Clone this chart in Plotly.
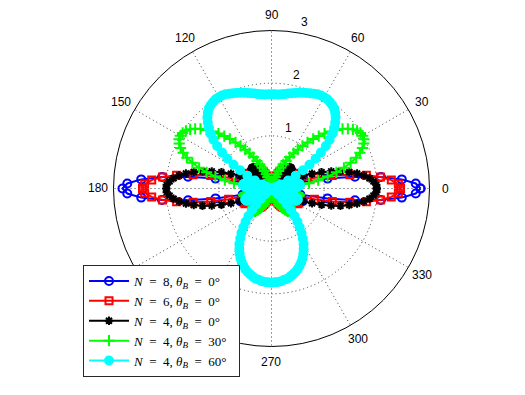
import math
import plotly.graph_objects as go

# sampling angles (degrees)
theta = list(range(0, 361, 2))

# radial values, theta = 0,2,...,360
r_n8_b0 = [
    2.83,2.74,2.48,2.09,1.60,1.08,0.56,0.10,0.27,0.51,0.63,0.64,0.55,0.39,0.20,0.00,0.18,0.31,0.40,0.43,0.41,0.35,0.26,0.15,0.03,0.08,0.17,0.25,0.31,0.34,0.36,0.36,0.34,0.32,0.28,0.24,0.21,0.17,0.13,0.10,0.07,0.04,0.02,0.01,0.00,0.00,
    0.00,0.01,0.02,0.04,0.07,0.10,0.13,0.17,0.21,0.24,0.28,0.32,0.34,0.36,0.36,0.34,0.31,0.25,0.17,0.08,0.03,0.15,0.26,0.35,0.41,0.43,0.40,0.31,0.18,0.00,0.20,0.39,0.55,0.64,0.63,0.51,0.27,0.10,0.56,1.08,1.60,2.09,2.48,2.74,2.83,
    2.74,2.48,2.09,1.60,1.08,0.56,0.10,0.27,0.51,0.63,0.64,0.55,0.39,0.20,0.00,0.18,0.31,0.40,0.43,0.41,0.35,0.26,0.15,0.03,0.08,0.17,0.25,0.31,0.34,0.36,0.36,0.34,0.32,0.28,0.24,0.21,0.17,0.13,0.10,0.07,0.04,0.02,0.01,0.00,0.00,
    0.00,0.01,0.02,0.04,0.07,0.10,0.13,0.17,0.21,0.24,0.28,0.32,0.34,0.36,0.36,0.34,0.31,0.25,0.17,0.08,0.03,0.15,0.26,0.35,0.41,0.43,0.40,0.31,0.18,0.00,0.20,0.39,0.55,0.64,0.63,0.51,0.27,0.10,0.56,1.08,1.60,2.09,2.48,2.74,2.83,
]
r_n6_b0 = [
    2.45,2.41,2.28,2.08,1.82,1.51,1.18,0.84,0.50,0.20,0.07,0.28,0.44,0.54,0.58,0.58,0.53,0.45,0.35,0.23,0.11,0.01,0.12,0.22,0.29,0.35,0.39,0.42,0.42,0.42,0.40,0.37,0.34,0.30,0.26,0.22,0.18,0.15,0.11,0.08,0.06,0.04,0.02,0.01,0.00,0.00,
    0.00,0.01,0.02,0.04,0.06,0.08,0.11,0.15,0.18,0.22,0.26,0.30,0.34,0.37,0.40,0.42,0.42,0.42,0.39,0.35,0.29,0.22,0.12,0.01,0.11,0.23,0.35,0.45,0.53,0.58,0.58,0.54,0.44,0.28,0.07,0.20,0.50,0.84,1.18,1.51,1.82,2.08,2.28,2.41,2.45,
    2.41,2.28,2.08,1.82,1.51,1.18,0.84,0.50,0.20,0.07,0.28,0.44,0.54,0.58,0.58,0.53,0.45,0.35,0.23,0.11,0.01,0.12,0.22,0.29,0.35,0.39,0.42,0.42,0.42,0.40,0.37,0.34,0.30,0.26,0.22,0.18,0.15,0.11,0.08,0.06,0.04,0.02,0.01,0.00,0.00,
    0.00,0.01,0.02,0.04,0.06,0.08,0.11,0.15,0.18,0.22,0.26,0.30,0.34,0.37,0.40,0.42,0.42,0.42,0.39,0.35,0.29,0.22,0.12,0.01,0.11,0.23,0.35,0.45,0.53,0.58,0.58,0.54,0.44,0.28,0.07,0.20,0.50,0.84,1.18,1.51,1.82,2.08,2.28,2.41,2.45,
]
r_n4_b0 = [
    2.00,1.99,1.94,1.87,1.77,1.65,1.51,1.35,1.18,1.00,0.82,0.64,0.46,0.30,0.14,0.00,0.13,0.24,0.33,0.40,0.46,0.50,0.53,0.54,0.54,0.53,0.51,0.49,0.46,0.42,0.38,0.34,0.30,0.26,0.22,0.19,0.15,0.12,0.09,0.07,0.05,0.03,0.02,0.01,0.00,0.00,
    0.00,0.01,0.02,0.03,0.05,0.07,0.09,0.12,0.15,0.19,0.22,0.26,0.30,0.34,0.38,0.42,0.46,0.49,0.51,0.53,0.54,0.54,0.53,0.50,0.46,0.40,0.33,0.24,0.13,0.00,0.14,0.30,0.46,0.64,0.82,1.00,1.18,1.35,1.51,1.65,1.77,1.87,1.94,1.99,2.00,
    1.99,1.94,1.87,1.77,1.65,1.51,1.35,1.18,1.00,0.82,0.64,0.46,0.30,0.14,0.00,0.13,0.24,0.33,0.40,0.46,0.50,0.53,0.54,0.54,0.53,0.51,0.49,0.46,0.42,0.38,0.34,0.30,0.26,0.22,0.19,0.15,0.12,0.09,0.07,0.05,0.03,0.02,0.01,0.00,0.00,
    0.00,0.01,0.02,0.03,0.05,0.07,0.09,0.12,0.15,0.19,0.22,0.26,0.30,0.34,0.38,0.42,0.46,0.49,0.51,0.53,0.54,0.54,0.53,0.50,0.46,0.40,0.33,0.24,0.13,0.00,0.14,0.30,0.46,0.64,0.82,1.00,1.18,1.35,1.51,1.65,1.77,1.87,1.94,1.99,2.00,
]
r_n4_b30 = [
    0.00,0.16,0.34,0.53,0.72,0.90,1.09,1.27,1.43,1.58,1.71,1.81,1.89,1.95,1.99,2.00,1.99,1.96,1.91,1.84,1.76,1.66,1.56,1.45,1.34,1.23,1.11,1.00,0.89,0.79,0.69,0.59,0.51,0.43,0.36,0.29,0.23,0.18,0.14,0.10,0.07,0.04,0.02,0.01,0.00,0.00,
    0.00,0.01,0.02,0.04,0.07,0.10,0.14,0.18,0.23,0.29,0.36,0.43,0.51,0.59,0.69,0.79,0.89,1.00,1.11,1.23,1.34,1.45,1.56,1.66,1.76,1.84,1.91,1.96,1.99,2.00,1.99,1.95,1.89,1.81,1.71,1.58,1.43,1.27,1.09,0.90,0.72,0.53,0.34,0.16,0.00,
    0.15,0.27,0.38,0.45,0.51,0.54,0.54,0.53,0.49,0.43,0.36,0.28,0.19,0.10,0.00,0.09,0.18,0.26,0.34,0.40,0.45,0.49,0.52,0.54,0.54,0.54,0.53,0.51,0.48,0.44,0.41,0.37,0.33,0.28,0.24,0.20,0.16,0.13,0.09,0.07,0.04,0.02,0.01,0.00,0.00,
    0.00,0.01,0.02,0.04,0.07,0.09,0.13,0.16,0.20,0.24,0.28,0.33,0.37,0.41,0.44,0.48,0.51,0.53,0.54,0.54,0.54,0.52,0.49,0.45,0.40,0.34,0.26,0.18,0.09,0.00,0.10,0.19,0.28,0.36,0.43,0.49,0.53,0.54,0.54,0.51,0.45,0.38,0.27,0.15,0.00,
]
r_n4_b60 = [
    0.38,0.45,0.50,0.54,0.54,0.53,0.49,0.42,0.34,0.23,0.10,0.04,0.19,0.35,0.52,0.69,0.85,1.01,1.16,1.31,1.44,1.55,1.66,1.74,1.82,1.88,1.93,1.96,1.98,2.00,2.00,2.00,1.99,1.97,1.95,1.93,1.91,1.89,1.87,1.85,1.83,1.81,1.80,1.79,1.79,1.79,
    1.79,1.79,1.80,1.81,1.83,1.85,1.87,1.89,1.91,1.93,1.95,1.97,1.99,2.00,2.00,2.00,1.98,1.96,1.93,1.88,1.82,1.74,1.66,1.55,1.44,1.31,1.16,1.01,0.85,0.69,0.52,0.35,0.19,0.04,0.10,0.23,0.34,0.42,0.49,0.53,0.54,0.54,0.50,0.45,0.38,
    0.30,0.20,0.09,0.02,0.12,0.23,0.32,0.40,0.46,0.51,0.54,0.54,0.53,0.50,0.44,0.37,0.29,0.19,0.08,0.04,0.16,0.29,0.42,0.55,0.68,0.80,0.91,1.02,1.12,1.22,1.30,1.38,1.45,1.51,1.56,1.61,1.65,1.68,1.71,1.74,1.75,1.77,1.78,1.78,1.79,
    1.78,1.78,1.77,1.75,1.74,1.71,1.68,1.65,1.61,1.56,1.51,1.45,1.38,1.30,1.22,1.12,1.02,0.91,0.80,0.68,0.55,0.42,0.29,0.16,0.04,0.08,0.19,0.29,0.37,0.44,0.50,0.53,0.54,0.54,0.51,0.46,0.40,0.32,0.23,0.12,0.02,0.09,0.20,0.30,0.38,
]

SP = "\u2002"  # en space, mimics LaTeX spacing around '='
series_names = [
    f"<i>N</i>{SP}={SP}8, <i>θ</i><sub><i>B</i></sub>{SP}={SP}0°{SP}{SP}",
    f"<i>N</i>{SP}={SP}6, <i>θ</i><sub><i>B</i></sub>{SP}={SP}0°{SP}{SP}",
    f"<i>N</i>{SP}={SP}4, <i>θ</i><sub><i>B</i></sub>{SP}={SP}0°{SP}{SP}",
    f"<i>N</i>{SP}={SP}4, <i>θ</i><sub><i>B</i></sub>{SP}={SP}30°{SP}",
    f"<i>N</i>{SP}={SP}4, <i>θ</i><sub><i>B</i></sub>{SP}={SP}60°{SP}",
]
series_r = [r_n8_b0, r_n6_b0, r_n4_b0, r_n4_b30, r_n4_b60]
series_colors = ["rgb(0,0,255)", "rgb(255,0,0)", "rgb(0,0,0)", "rgb(0,255,0)", "rgb(0,255,255)"]
series_symbols = ["circle-open", "square-open", "asterisk-open", "cross-thin-open", "circle"]
series_msize = [8, 7, 7, 8, 8]

# angular labels visible in the picture (210 and 240 are hidden under the legend)
angle_ticks = list(range(0, 360, 30))
angle_labels = ["0", "30", "60", "90", "120", "150", "180", "", "", "270", "300", "330"]
radial_labels = ["1", "2", "3"]
radial_label_r = [1.2, 2.2, 3.23]
radial_label_theta = [74, 77.5, 78.7]

fig = go.Figure()

for name, rr, col, sym, ms in zip(series_names, series_r, series_colors, series_symbols, series_msize):
    fig.add_trace(go.Scatterpolar(
        r=rr, theta=theta, mode="lines+markers", name=name,
        line=dict(color=col, width=2),
        marker=dict(symbol=sym, size=ms, color=col, line=dict(color=col, width=2)),
        cliponaxis=False,
    ))

# polar geometry (pixels) used to place the label annotations
cx, cy, rad = 271.5, 188.5, 158.0
rmax = 3.0
W, H = 525, 395

def to_paper(rv, th_deg):
    px = rad * rv / rmax
    x = cx + px * math.cos(math.radians(th_deg))
    y = cy - px * math.sin(math.radians(th_deg))
    return x / W, 1 - y / H

annotations = []
lab_font = dict(family="Liberation Sans, Arial, sans-serif", size=12, color="black")
for a, lab in zip(angle_ticks, angle_labels):
    if not lab:
        continue
    xp, yp = to_paper(3.3, a)
    annotations.append(dict(x=xp, y=yp, xref="paper", yref="paper", text=lab, showarrow=False,
                            xanchor="center", yanchor="middle", font=lab_font))
for rv, th, lab in zip(radial_label_r, radial_label_theta, radial_labels):
    xp, yp = to_paper(rv, th)
    annotations.append(dict(x=xp, y=yp, xref="paper", yref="paper", text=lab, showarrow=False,
                            xanchor="center", yanchor="middle", font=lab_font))

fig.update_layout(
    width=W, height=H,
    margin=dict(l=0, r=0, t=0, b=0),
    paper_bgcolor="white",
    showlegend=True,
    annotations=annotations,
    polar=dict(
        domain=dict(x=[(cx - rad) / W, (cx + rad) / W], y=[(H - cy - rad) / H, (H - cy + rad) / H]),
        bgcolor="white",
        radialaxis=dict(range=[0, rmax], tickvals=[1, 2], showticklabels=False, ticks="",
                        showline=False, gridcolor="rgb(60,60,60)", griddash="1px,3px", gridwidth=1),
        angularaxis=dict(rotation=0, direction="counterclockwise", tickvals=angle_ticks,
                         showticklabels=False, ticks="", showline=True, linecolor="black", linewidth=1,
                         gridcolor="rgb(60,60,60)", griddash="1px,3px", gridwidth=1),
    ),
    legend=dict(x=83 / W, y=1 - 265 / H, xanchor="left", yanchor="top",
                bordercolor="rgb(40,40,40)", borderwidth=1, bgcolor="white",
                font=dict(family="Liberation Serif, serif", size=13, color="black"),
                itemwidth=40, tracegroupgap=0),
)

fig.write_html("out.html", config={"displayModeBar": False},
               post_script="document.body.style.margin='0';")
